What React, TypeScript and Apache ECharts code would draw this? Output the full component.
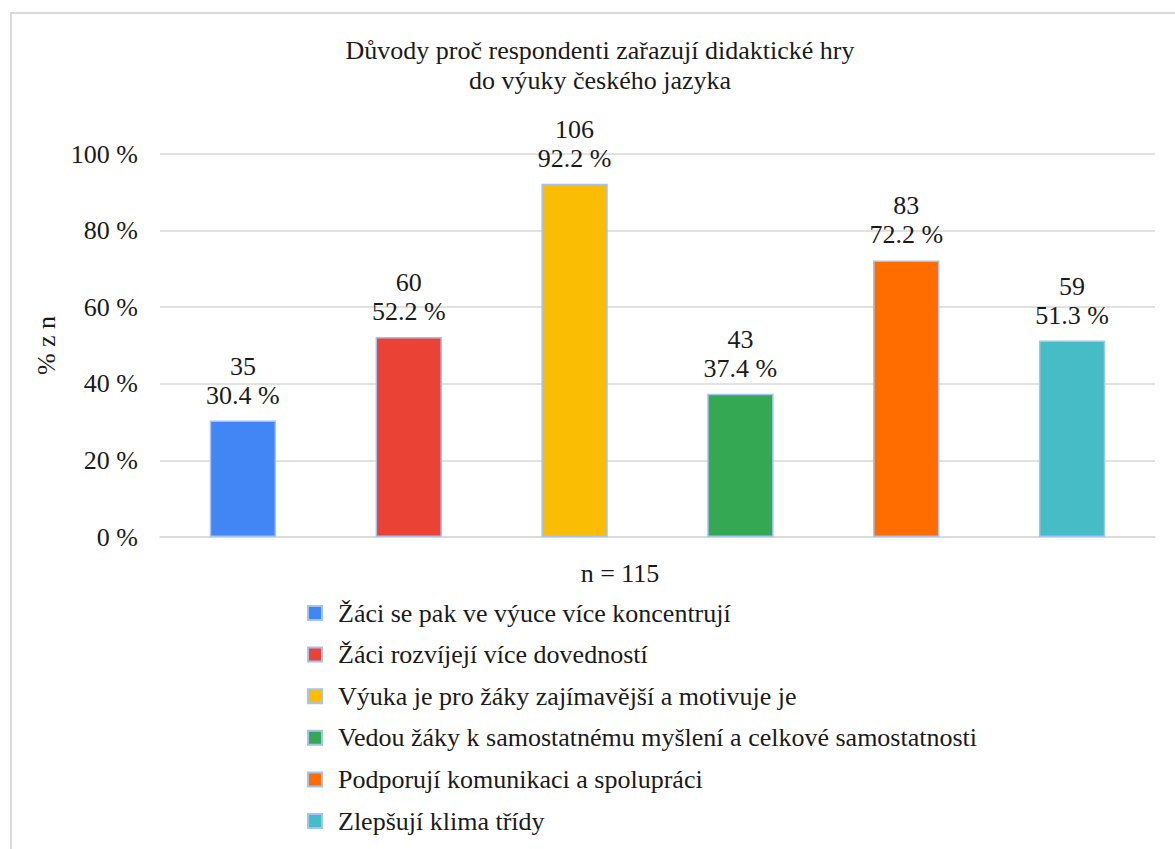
import React, { useEffect, useRef } from "react";
import * as echarts from "echarts";

const categories = [
  "Žáci se pak ve výuce více koncentrují",
  "Žáci rozvíjejí více dovedností",
  "Výuka je pro žáky zajímavější a motivuje je",
  "Vedou žáky k samostatnému myšlení a celkové samostatnosti",
  "Podporují komunikaci a spolupráci",
  "Zlepšují klima třídy",
];
const counts = [35, 60, 106, 43, 83, 59];
const percents = [30.4, 52.2, 92.2, 37.4, 72.2, 51.3];
const colors = ["#4285F4", "#EA4335", "#FBBC04", "#34A853", "#FF6D01", "#46BDC6"];
const titleLines = ["Důvody proč respondenti zařazují didaktické hry", "do výuky českého jazyka"];
const axisName = "% z n";
const nLabel = "n = 115";

const FONT = "Liberation Serif";
const FS = 26;

export default function App() {
  const ref = useRef<HTMLDivElement>(null);
  useEffect(() => {
    document.body.style.margin = "0";
    const chart = echarts.init(ref.current!, null, { renderer: "svg" });
    const series = categories.map((name, i) => ({
      name,
      type: "bar",
      stack: "all",
      barWidth: "40%",
      data: percents.map((v, j) => (j === i ? v : "-")),
      itemStyle: { color: colors[i], borderColor: "#a4c2f4", borderWidth: 1.5 },
      label: {
        show: true,
        position: "top",
        distance: 11,
        color: "#1a1a1a",
        fontFamily: FONT,
        fontSize: FS,
        lineHeight: 29,
        align: "center",
        formatter: (p: any) => `${counts[p.dataIndex]}\n${Number(p.value).toFixed(1)} %`,
      },
    }));
    chart.setOption({
      animation: false,
      backgroundColor: "#fff",
      textStyle: { fontFamily: FONT },
      grid: { left: 160, right: 20, top: 154, bottom: 312 },
      xAxis: {
        type: "category",
        data: categories,
        axisLabel: { show: false },
        axisTick: { show: false },
        axisLine: { lineStyle: { color: "#d9d9d9", width: 1.5 } },
      },
      yAxis: {
        type: "value",
        min: 0,
        max: 100,
        interval: 20,
        name: axisName,
        nameLocation: "middle",
        nameRotate: 90,
        nameGap: 101,
        nameTextStyle: { color: "#1a1a1a", fontFamily: FONT, fontSize: FS },
        axisLabel: { formatter: "{value} %", color: "#1a1a1a", fontFamily: FONT, fontSize: FS, margin: 22 },
        splitLine: { lineStyle: { color: "#d9d9d9", width: 1.5 } },
        axisLine: { show: false },
        axisTick: { show: false },
      },
      legend: {
        orient: "vertical",
        left: 302,
        top: 595,
        itemWidth: 14,
        itemHeight: 14,
        itemGap: 15.6,
        icon: "rect",
        data: categories,
        textStyle: { color: "#1a1a1a", fontFamily: FONT, fontSize: FS, padding: [0, 0, 0, 11] },
      },
      graphic: [
        {
          type: "rect",
          shape: { x: 11, y: 13, width: 1400, height: 1200 },
          style: { fill: "none", stroke: "#d9d9d9", lineWidth: 2 },
          silent: true,
        },
        {
          type: "text",
          x: 600,
          y: 65,
          style: {
            text: titleLines.join("\n"),
            fontFamily: FONT,
            fontSize: FS,
            lineHeight: 30,
            fill: "#1a1a1a",
            align: "center",
            verticalAlign: "middle",
          },
        },
        {
          type: "text",
          x: 620,
          y: 573,
          style: {
            text: nLabel,
            fontFamily: FONT,
            fontSize: FS,
            fill: "#1a1a1a",
            align: "center",
            verticalAlign: "middle",
          },
        },
      ],
      series,
    });
    return () => chart.dispose();
  }, []);
  return <div ref={ref} style={{ width: 1175, height: 849 }} />;
}
